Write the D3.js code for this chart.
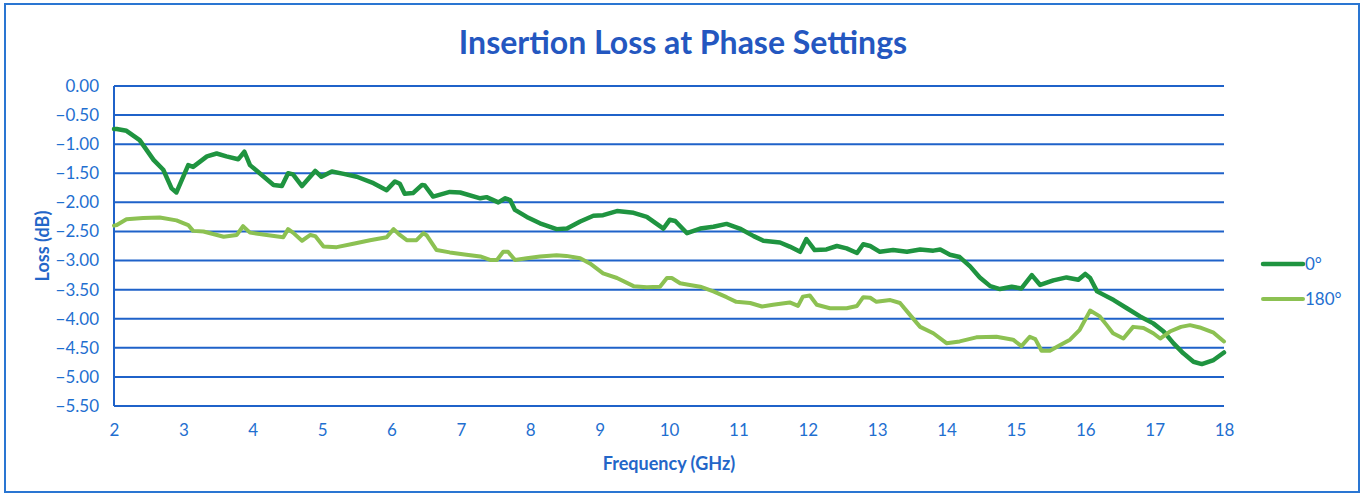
<!DOCTYPE html>
<html><head><meta charset="utf-8">
<script src="https://cdn.jsdelivr.net/npm/d3@7"></script>
<style>
body{margin:0;background:#fff;}
svg{display:block;}
text{font-family:Lato,"Open Sans",sans-serif;}
</style></head>
<body><svg id="c" width="1365" height="495"></svg>
<script>
const seriesNames = ["0°", "180°"];
const yTicks = [0, -0.5, -1, -1.5, -2, -2.5, -3, -3.5, -4, -4.5, -5, -5.5];
const xTicks = [2,3,4,5,6,7,8,9,10,11,12,13,14,15,16,17,18];

const freq0 = [2.00,2.04,2.18,2.37,2.57,2.71,2.83,2.90,3.07,3.14,3.34,3.48,3.62,3.79,3.88,3.96,4.10,4.30,4.42,4.51,4.58,4.71,4.90,4.99,5.14,5.31,5.50,5.74,5.93,6.05,6.12,6.19,6.31,6.44,6.48,6.60,6.84,6.99,7.28,7.37,7.54,7.64,7.71,7.78,7.95,8.14,8.38,8.53,8.72,8.91,9.05,9.25,9.49,9.68,9.92,10.01,10.09,10.26,10.45,10.64,10.83,11.02,11.22,11.36,11.60,11.74,11.89,11.98,12.10,12.27,12.42,12.56,12.71,12.80,12.90,13.04,13.23,13.43,13.62,13.81,13.91,14.05,14.19,14.34,14.48,14.63,14.77,14.94,15.08,15.23,15.35,15.54,15.73,15.90,16.00,16.07,16.17,16.41,16.60,16.79,16.98,17.13,17.27,17.41,17.56,17.68,17.85,18.00];
const loss0 = [-0.74,-0.74,-0.77,-0.93,-1.27,-1.44,-1.76,-1.83,-1.36,-1.39,-1.21,-1.16,-1.21,-1.26,-1.13,-1.36,-1.50,-1.70,-1.72,-1.50,-1.52,-1.72,-1.46,-1.56,-1.47,-1.51,-1.56,-1.67,-1.79,-1.64,-1.68,-1.85,-1.84,-1.70,-1.71,-1.90,-1.82,-1.83,-1.93,-1.91,-2.00,-1.93,-1.96,-2.13,-2.25,-2.36,-2.46,-2.45,-2.33,-2.23,-2.22,-2.15,-2.18,-2.25,-2.45,-2.30,-2.32,-2.53,-2.45,-2.42,-2.37,-2.45,-2.58,-2.66,-2.69,-2.76,-2.85,-2.63,-2.82,-2.81,-2.75,-2.79,-2.87,-2.72,-2.75,-2.85,-2.82,-2.85,-2.81,-2.83,-2.81,-2.90,-2.94,-3.10,-3.29,-3.44,-3.49,-3.45,-3.48,-3.25,-3.42,-3.34,-3.29,-3.33,-3.23,-3.30,-3.53,-3.68,-3.82,-3.96,-4.08,-4.22,-4.42,-4.59,-4.74,-4.78,-4.71,-4.58];

const freq180 = [2.00,2.04,2.18,2.42,2.66,2.90,3.07,3.14,3.29,3.58,3.77,3.86,3.96,4.20,4.44,4.51,4.58,4.71,4.83,4.90,5.02,5.21,5.45,5.69,5.93,6.03,6.12,6.22,6.36,6.46,6.51,6.65,6.84,7.08,7.28,7.42,7.52,7.61,7.68,7.78,7.95,8.14,8.38,8.52,8.72,8.86,9.05,9.25,9.49,9.68,9.87,9.97,10.04,10.16,10.30,10.45,10.64,10.83,10.97,11.17,11.34,11.50,11.74,11.86,11.93,12.03,12.13,12.32,12.56,12.71,12.80,12.90,12.99,13.19,13.33,13.47,13.62,13.81,14.00,14.19,14.43,14.72,14.96,15.08,15.20,15.28,15.37,15.49,15.64,15.78,15.92,16.07,16.21,16.31,16.40,16.55,16.69,16.84,16.98,17.08,17.22,17.38,17.51,17.65,17.85,18.00];
const loss180 = [-2.40,-2.39,-2.29,-2.27,-2.26,-2.31,-2.39,-2.49,-2.50,-2.59,-2.56,-2.41,-2.52,-2.56,-2.60,-2.46,-2.52,-2.66,-2.56,-2.58,-2.76,-2.77,-2.71,-2.65,-2.60,-2.46,-2.56,-2.65,-2.65,-2.53,-2.57,-2.82,-2.86,-2.90,-2.93,-2.99,-2.99,-2.85,-2.85,-2.99,-2.96,-2.93,-2.91,-2.92,-2.96,-3.05,-3.22,-3.30,-3.44,-3.46,-3.45,-3.30,-3.30,-3.39,-3.42,-3.45,-3.53,-3.63,-3.71,-3.73,-3.79,-3.76,-3.72,-3.78,-3.62,-3.60,-3.76,-3.82,-3.82,-3.78,-3.63,-3.64,-3.71,-3.68,-3.73,-3.93,-4.14,-4.25,-4.42,-4.39,-4.32,-4.31,-4.36,-4.47,-4.31,-4.35,-4.55,-4.55,-4.45,-4.36,-4.19,-3.86,-3.96,-4.11,-4.25,-4.34,-4.14,-4.16,-4.25,-4.34,-4.22,-4.14,-4.11,-4.15,-4.24,-4.39];

const blue = "#1f62c9";
const textBlue = "#1f6fd0";
const colors = ["#1f9440", "#8cc152"];

const svg = d3.select("#c");
const L = 114, R = 1224, T = 86, B = 406;
const x = d3.scaleLinear().domain([2, 18]).range([L, R]);
const y = d3.scaleLinear().domain([0, -5.5]).range([T, B]);

// outer frame
svg.append("rect").attr("x", 5).attr("y", 4).attr("width", 1354).attr("height", 488)
  .attr("fill", "none").attr("stroke", "#2a76d2").attr("stroke-width", 2);

// gridlines
svg.append("g").selectAll("line").data(yTicks).join("line")
  .attr("x1", L).attr("x2", R).attr("y1", d => y(d)).attr("y2", d => y(d))
  .attr("stroke", blue).attr("stroke-width", 2);
svg.append("line").attr("x1", L).attr("x2", L).attr("y1", T).attr("y2", B)
  .attr("stroke", blue).attr("stroke-width", 2);

// y axis labels
const yAxis = d3.axisLeft(y).tickValues(yTicks).tickFormat(d3.format(".2f")).tickSize(0).tickPadding(15);
const gy = svg.append("g").attr("transform", `translate(${L},0)`).call(yAxis);
gy.select(".domain").remove();
gy.selectAll("text").attr("fill", textBlue).style("font-size", "17px").style("font-family", "Lato, sans-serif");

// x axis labels
const xAxis = d3.axisBottom(x).tickValues(xTicks).tickFormat(d3.format("d")).tickSize(0).tickPadding(18);
const gx = svg.append("g").attr("transform", `translate(0,${B})`).call(xAxis);
gx.select(".domain").remove();
gx.selectAll("text").attr("fill", textBlue).style("font-size", "17px").style("font-family", "Lato, sans-serif");

// titles
svg.append("text").attr("x", 683).attr("y", 54).attr("text-anchor", "middle")
  .attr("fill", "#2457c0").style("font-weight", "bold").style("font-size", "32px")
  .text("Insertion Loss at Phase Settings");
svg.append("text").attr("x", 669).attr("y", 470).attr("text-anchor", "middle")
  .attr("fill", "#2366c8").style("font-weight", "bold").style("font-size", "18px")
  .text("Frequency (GHz)");
svg.append("text").attr("transform", "translate(49,246) rotate(-90)").attr("text-anchor", "middle")
  .attr("fill", "#2366c8").style("font-weight", "bold").style("font-size", "18px")
  .text("Loss (dB)");

// lines
const line = d3.line().x(d => x(d[0])).y(d => y(d[1])).curve(d3.curveLinear);
const data = [d3.zip(freq0, loss0), d3.zip(freq180, loss180)];
const widths = [4.5, 4];
svg.append("g").selectAll("path").data(data).join("path")
  .attr("d", line).attr("fill", "none")
  .attr("stroke", (d, i) => colors[i]).attr("stroke-width", (d, i) => widths[i])
  .attr("stroke-linejoin", "round").attr("stroke-linecap", "round");

// legend
const lg = svg.append("g").selectAll("g").data(seriesNames).join("g")
  .attr("transform", (d, i) => `translate(1263,${264 + i * 35})`);
lg.append("line").attr("x1", 0).attr("x2", 40).attr("y1", 0).attr("y2", 0)
  .attr("stroke", (d, i) => colors[i]).attr("stroke-width", (d, i) => widths[i]).attr("stroke-linecap", "round");
lg.append("text").attr("x", 42).attr("y", 6).attr("fill", textBlue).style("font-size", "17px").text(d => d);
</script>
</body></html>
